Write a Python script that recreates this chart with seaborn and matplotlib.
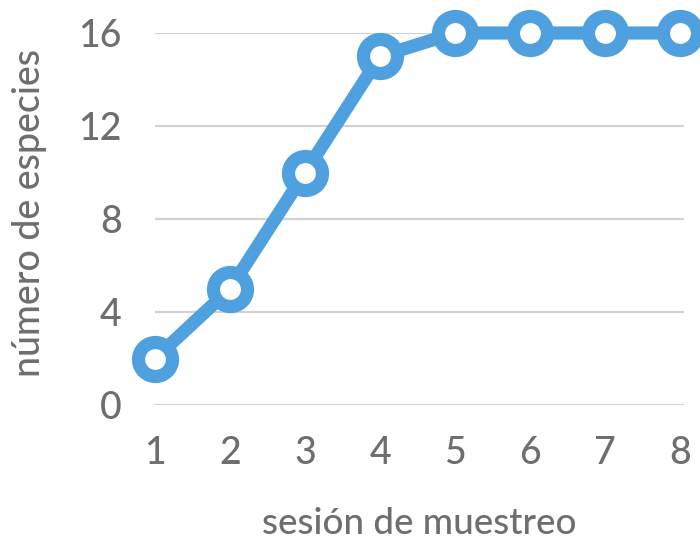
import matplotlib
matplotlib.use("Agg")
import matplotlib.pyplot as plt
import seaborn as sns
import pandas as pd

# Species accumulation over sampling sessions
sesiones = [1, 2, 3, 4, 5, 6, 7, 8]
especies = [2, 5, 10, 15, 16, 16, 16, 16]
y_ticks = [0, 4, 8, 12, 16]

df = pd.DataFrame({"sesion": sesiones, "especies": especies})

sns.set_theme(style="white")
plt.rcParams["font.family"] = ["Lato", "DejaVu Sans"]

text_color = "#6e6e6e"
line_color = "#4FA0DE"
grid_color = "#d2d2d2"

fig = plt.figure(figsize=(7.0, 5.4), dpi=100)
ax = fig.add_axes([155 / 700, 135 / 540, (684 - 155) / 700, (405 - 33) / 540])

for yt in y_ticks:
    ax.axhline(yt, color=grid_color, lw=1.6, zorder=0)

sns.lineplot(
    data=df, x="sesion", y="especies", ax=ax,
    color=line_color, linewidth=9.5,
    marker="o", markersize=24.5, markeredgewidth=9.5,
    markerfacecolor="white", markeredgecolor=line_color,
    clip_on=False, zorder=3,
)

ax.set_xlim(1, 8.05)
ax.set_ylim(0, 16)
ax.set_xticks(sesiones)
ax.set_yticks(y_ticks)
ax.tick_params(axis="x", length=0, pad=22, labelsize=27, labelcolor=text_color)
ax.tick_params(axis="y", length=0, pad=24, labelsize=27, labelcolor=text_color)
for label in ax.get_xticklabels() + ax.get_yticklabels():
    label.set_fontweight("medium")
for side in ax.spines.values():
    side.set_visible(False)

ax.set_xlabel("sesión de muestreo", fontsize=26.5, color=text_color,
              labelpad=26, fontweight="medium")
ax.set_ylabel("número de especies", fontsize=27, color=text_color,
              fontweight="medium")
ax.yaxis.set_label_coords(-0.205, 0.515)

fig.savefig("out.png", dpi=100)
